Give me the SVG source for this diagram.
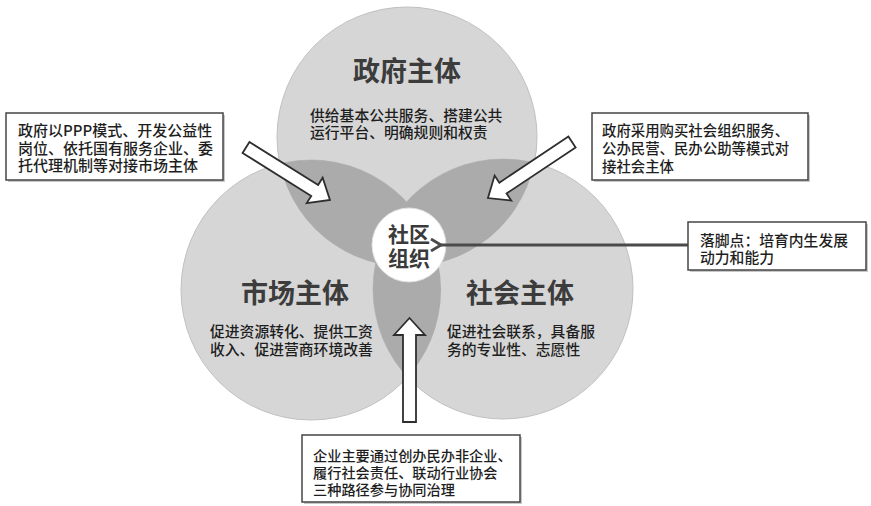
<svg xmlns="http://www.w3.org/2000/svg" width="871" height="506" viewBox="0 0 871 506">
  <style>
    .circ { fill: #d6d6d6; stroke: #c0c0c0; stroke-width: 1; }
    .lens { fill: #ababab; }
    .title { font-family: "Noto Sans CJK SC", "Liberation Sans", sans-serif; font-weight: bold; font-size: 27px; fill: #3c3c3c; text-anchor: middle; }
    .desc { font-family: "Noto Sans CJK SC", "Liberation Sans", sans-serif; font-weight: 500; font-size: 14.8px; fill: #1e1e1e; }
    .center { font-family: "Noto Sans CJK SC", "Liberation Sans", sans-serif; font-weight: bold; font-size: 21px; fill: #3a3a3a; text-anchor: middle; }
    .box { fill: #ffffff; stroke: #454545; stroke-width: 1.5; }
    .shadow { fill: #c8c8c8; }
    .blockarrow { fill: #ffffff; stroke: #2e2e2e; stroke-width: 1.8; stroke-linejoin: miter; }
    .line { stroke: #4a4a4a; stroke-width: 2.8; fill: none; }
  </style>
  <defs>
    <clipPath id="clipTop"><circle cx="407" cy="137" r="130"/></clipPath>
    <clipPath id="clipLeft"><circle cx="311" cy="290" r="130"/></clipPath>
    <marker id="chev" markerWidth="14" markerHeight="14" refX="2" refY="7" orient="auto" markerUnits="userSpaceOnUse">
      <path d="M12,1 L2,7 L12,13" fill="none" stroke="#4a4a4a" stroke-width="2.8"/>
    </marker>
  </defs>
  <rect width="871" height="506" fill="#ffffff"/>

  <g id="circles">
    <g id="gov">
      <circle class="circ" cx="407" cy="137" r="130"/>
    </g>
    <g id="market">
      <circle class="circ" cx="311" cy="290" r="130"/>
    </g>
    <g id="society">
      <circle class="circ" cx="503" cy="289" r="130"/>
    </g>
    <g id="overlaps">
      <circle class="lens" cx="311" cy="290" r="130" clip-path="url(#clipTop)"/>
      <circle class="lens" cx="503" cy="289" r="130" clip-path="url(#clipTop)"/>
      <circle class="lens" cx="503" cy="289" r="130" clip-path="url(#clipLeft)"/>
    </g>
  </g>

  <g id="gov-text">
    <text class="title" x="407" y="81">政府主体</text>
    <text class="desc" x="310" y="121">供给基本公共服务、搭建公共</text>
    <text class="desc" x="310" y="137.5">运行平台、明确规则和权责</text>
  </g>
  <g id="market-text">
    <text class="title" x="295" y="303">市场主体</text>
    <text class="desc" x="210" y="337">促进资源转化、提供工资</text>
    <text class="desc" x="210" y="355">收入、促进营商环境改善</text>
  </g>
  <g id="society-text">
    <text class="title" x="520" y="303">社会主体</text>
    <text class="desc" x="447" y="337">促进社会联系，具备服</text>
    <text class="desc" x="447" y="355">务的专业性、志愿性</text>
  </g>

  <g id="community">
    <circle cx="409" cy="245" r="37" fill="#ffffff" stroke="#e0e0e0" stroke-width="1"/>
    <text class="center" x="409" y="242">社区</text>
    <text class="center" x="409" y="266">组织</text>
  </g>

  <g id="connectors">
    <polygon class="blockarrow" transform="translate(246,147.5) rotate(32)" points="0,-6.5 81,-6.5 81,-15 99,0 81,15 81,6.5 0,6.5"/>
    <polygon class="blockarrow" transform="translate(572,142) rotate(146.3)" points="0,-6.5 83,-6.5 83,-15 101,0 83,15 83,6.5 0,6.5"/>
    <polygon class="blockarrow" points="403,422 403,335 394,335 409.5,318 425,335 416,335 416,422"/>
    <line class="line" x1="688" y1="245" x2="441" y2="245" marker-end="url(#chev)"/>
  </g>

  <g id="box-left">
    <rect class="shadow" x="8" y="115" width="217" height="67"/>
    <rect class="box" x="6" y="113" width="217" height="67"/>
    <text class="desc" style="font-size:15px" x="18" y="136">政府以PPP模式、开发公益性</text>
    <text class="desc" style="font-size:15px" x="18" y="153.5">岗位、依托国有服务企业、委</text>
    <text class="desc" style="font-size:15px" x="18" y="171">托代理机制等对接市场主体</text>
  </g>
  <g id="box-right">
    <rect class="shadow" x="594" y="115" width="216" height="67"/>
    <rect class="box" x="592" y="113" width="216" height="67"/>
    <text class="desc" style="font-size:14.4px" x="602" y="136">政府采用购买社会组织服务、</text>
    <text class="desc" style="font-size:14.4px" x="602" y="154">公办民营、民办公助等模式对</text>
    <text class="desc" style="font-size:14.4px" x="602" y="172">接社会主体</text>
  </g>
  <g id="box-goal">
    <rect class="shadow" x="690" y="224" width="178" height="48"/>
    <rect class="box" x="688" y="222" width="178" height="48"/>
    <text class="desc" x="700" y="246">落脚点：培育内生发展</text>
    <text class="desc" x="700" y="262.5">动力和能力</text>
  </g>
  <g id="box-bottom">
    <rect class="shadow" x="304" y="437" width="218" height="67"/>
    <rect class="box" x="302" y="435" width="218" height="67"/>
    <text class="desc" style="font-size:14.2px" x="313" y="461">企业主要通过创办民办非企业、</text>
    <text class="desc" style="font-size:14.2px" x="313" y="478">履行社会责任、联动行业协会</text>
    <text class="desc" style="font-size:14.2px" x="313" y="495">三种路径参与协同治理</text>
  </g>
</svg>
